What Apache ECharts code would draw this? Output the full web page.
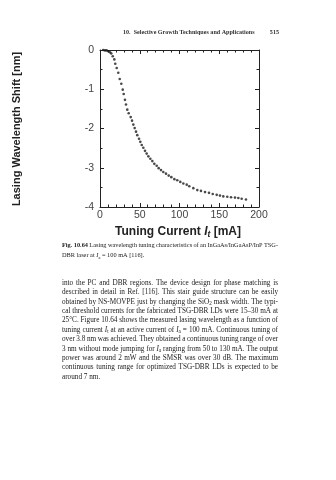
<!DOCTYPE html>
<html>
<head>
<meta charset="utf-8">
<script src="https://cdn.jsdelivr.net/npm/echarts@6/dist/echarts.min.js"></script>
<style>
  html, body { margin: 0; padding: 0; background: #fff; }
  #page { width: 336px; height: 480px; }
</style>
</head>
<body>
<div id="page"></div>
<script>
// Tuning current (mA) and the resulting lasing wavelength shift (nm)
const tuningCurrent = [
  4, 6.3, 8.4, 10.4, 12.6, 14.2, 16.0, 18.0, 19.2, 21.0, 23.0, 24.8, 26.8, 28.6, 29.8,
  31.4, 32.7, 34.3, 36.1, 38.6, 40.3, 41.9, 43.6, 45.3, 46.9, 49.1, 50.7, 52.5, 54.5,
  56.6, 58.7, 60.8, 63.3, 65.8, 68.3, 71.3, 73.8, 76.7, 79.6, 83.0, 86.4, 89.7, 93.5,
  97.2, 101.0, 104.8, 109.1, 112.3, 117.4, 122.4, 127.0, 132.1, 137.1, 141.8, 146.8,
  150.9, 155.1, 160.1, 164.8, 169.8, 174.0, 178.2, 183.6
];
const wavelengthShift = [
  0, -0.01, -0.01, -0.03, -0.06, -0.09, -0.16, -0.24, -0.35, -0.46, -0.58, -0.74, -0.86, -1.01, -1.12,
  -1.27, -1.39, -1.52, -1.61, -1.71, -1.80, -1.90, -1.99, -2.08, -2.17, -2.26, -2.34, -2.42, -2.49,
  -2.57, -2.64, -2.71, -2.77, -2.83, -2.90, -2.95, -3.01, -3.06, -3.11, -3.15, -3.20, -3.24, -3.29,
  -3.32, -3.36, -3.40, -3.43, -3.47, -3.52, -3.57, -3.59, -3.62, -3.64, -3.67, -3.69,
  -3.71, -3.73, -3.74, -3.75, -3.76, -3.77, -3.79, -3.81
];
const xTicks = { min: 0, max: 200, step: 50 };
const yTicks = { min: -4, max: 0, step: 1 };

// Page furniture
const runningHead = '10.  Selective Growth Techniques and Applications';
const pageNumber = '515';
const captionLines = [
  '**Fig. 10.64**  Lasing wavelength tuning characteristics of an InGaAs/InGaAsP/InP TSG-',
  'DBR laser at *I*_{a} = 100 mA [116].'
];
const bodyLines = [
  'into the PC and DBR regions. The device design for phase matching is',
  'described in detail in Ref. [116]. This stair guide structure can be easily',
  'obtained by NS-MOVPE just by changing the SiO_{2} mask width. The typi-',
  'cal threshold currents for the fabricated TSG-DBR LDs were 15\u201330 mA at',
  '25\u00B0C. Figure 10.64 shows the measured lasing wavelength as a function of',
  'tuning current *I*_{t} at an active current of *I*_{a} = 100 mA. Continuous tuning of',
  'over 3.8 nm was achieved. They obtained a continuous tuning range of over',
  '3 nm without mode jumping for *I*_{a} ranging from 50 to 130 mA. The output',
  'power was around 2 mW and the SMSR was over 30 dB. The maximum',
  'continuous tuning range for optimized TSG-DBR LDs is expected to be',
  'around 7 nm.'
];

const SERIF = '"Liberation Serif", "DejaVu Serif", serif';
const SANS = '"Liberation Sans", Arial, sans-serif';
const TEXT_LEFT = 62, TEXT_RIGHT = 278;

const measureCtx = document.createElement('canvas').getContext('2d');

function fontOf(kind, size) {
  const sub = kind === 'sub';
  const sz = sub ? size * 0.7 : size;
  const style = kind === 'i' ? 'italic ' : '';
  const weight = kind === 'b' ? 'bold ' : '';
  return style + weight + sz.toFixed(2) + 'px ' + SERIF;
}

// Split a marked-up line into words made of styled pieces
function parseLine(line) {
  const re = /(\*\*[^*]+\*\*|\*[^*]+\*|_\{[^}]+\})/;
  const raw = line.split(re).filter(s => s.length);
  const words = [[]];
  raw.forEach(tok => {
    let kind = 'n', t = tok;
    if (tok.startsWith('**')) { kind = 'b'; t = tok.slice(2, -2); }
    else if (tok.startsWith('*')) { kind = 'i'; t = tok.slice(1, -1); }
    else if (tok.startsWith('_{')) { kind = 'sub'; t = tok.slice(2, -1); }
    const parts = t.split(' ');
    parts.forEach((p, j) => {
      if (j > 0) words.push([]);
      if (p) words[words.length - 1].push({ t: p, kind });
    });
  });
  return words.filter(w => w.length);
}

function pieceWidth(p, size) {
  measureCtx.font = fontOf(p.kind, size);
  return measureCtx.measureText(p.t).width;
}
function wordWidth(word, size) {
  return word.reduce((s, p) => s + pieceWidth(p, size), 0);
}
function naturalWidth(line, size) {
  const words = parseLine(line);
  measureCtx.font = fontOf('n', size);
  const space = measureCtx.measureText(' ').width * 0.85;
  return words.reduce((s, w) => s + wordWidth(w, size), 0) + space * (words.length - 1);
}
// Largest type size at which every justified line still fits the measure
function fitSize(lines, width) {
  const base = 10;
  const widest = Math.max(...lines.slice(0, -1).map(l => naturalWidth(l, base)));
  return base * width / widest;
}

// Lay out a paragraph line, justified between x0 and x1 unless it is the last
function setLine(line, x0, x1, y, size, justify, out) {
  const words = parseLine(line);
  const widths = words.map(w => wordWidth(w, size));
  const total = widths.reduce((a, b) => a + b, 0);
  measureCtx.font = fontOf('n', size);
  const space = measureCtx.measureText(' ').width;
  const gap = justify && words.length > 1 ? (x1 - x0 - total) / (words.length - 1) : space;
  let x = x0;
  words.forEach(w => {
    w.forEach(p => {
      out.push({
        type: 'text',
        x: x,
        y: p.kind === 'sub' ? y + size * 0.3 : y,
        silent: true,
        style: {
          text: p.t,
          font: fontOf(p.kind, size),
          fill: '#222',
          align: 'left',
          verticalAlign: 'middle'
        }
      });
      x += pieceWidth(p, size);
    });
    x += gap;
  });
}

const graphics = [];

// Running head
graphics.push({
  type: 'text', x: 123, y: 32, silent: true,
  style: { text: runningHead, font: 'bold 6.1px ' + SERIF, fill: '#333', align: 'left', verticalAlign: 'middle' }
});
graphics.push({
  type: 'text', x: 279, y: 32, silent: true,
  style: { text: pageNumber, font: 'bold 6.1px ' + SERIF, fill: '#333', align: 'right', verticalAlign: 'middle' }
});

// Axis titles (the vertical one reads bottom to top)
graphics.push({
  type: 'text', x: 17, y: 129, rotation: Math.PI / 2, silent: true,
  style: { text: 'Lasing Wavelength Shift [nm]', font: 'bold 11px ' + SANS, fill: '#222', align: 'center', verticalAlign: 'middle' }
});
graphics.push({
  type: 'text', x: 178, y: 232, silent: true,
  style: {
    text: '{a|Tuning Current }{i|I}{s|t}{a| [mA]}',
    align: 'center', verticalAlign: 'middle',
    rich: {
      a: { font: 'bold 12px ' + SANS, fill: '#222' },
      i: { font: 'italic bold 12px ' + SANS, fill: '#222' },
      s: { font: 'italic bold 8.5px ' + SANS, fill: '#222', padding: [5, 0, 0, 0] }
    }
  }
});

// Caption and body text
const captionSize = fitSize(captionLines, TEXT_RIGHT - TEXT_LEFT);
const bodySize = fitSize(bodyLines, TEXT_RIGHT - TEXT_LEFT);
captionLines.forEach((ln, k) => setLine(ln, TEXT_LEFT, TEXT_RIGHT, 245.5 + k * 10, captionSize, k < captionLines.length - 1, graphics));
bodyLines.forEach((ln, k) => setLine(ln, TEXT_LEFT, TEXT_RIGHT, 283 + k * 9.4, bodySize, k < bodyLines.length - 1, graphics));

const chart = echarts.init(document.getElementById('page'), null, { renderer: 'canvas' });

const tickStyle = { lineStyle: { color: '#222', width: 1 } };
function makeX(position, showLabels) {
  return {
    type: 'value', position, min: xTicks.min, max: xTicks.max, interval: xTicks.step,
    axisLine: { show: true, onZero: false, lineStyle: { color: '#222', width: 1 } },
    axisTick: { show: true, inside: true, length: 4, ...tickStyle },
    minorTick: { show: true, splitNumber: 5, length: 2.5, ...tickStyle },
    splitLine: { show: false },
    axisLabel: { show: showLabels, margin: 3, fontSize: 10.5, fontFamily: SANS, color: '#444' }
  };
}
function makeY(position, showLabels) {
  return {
    type: 'value', position, min: yTicks.min, max: yTicks.max, interval: yTicks.step,
    axisLine: { show: true, onZero: false, lineStyle: { color: '#222', width: 1 } },
    axisTick: { show: true, inside: true, length: 4, ...tickStyle },
    minorTick: { show: true, splitNumber: 2, length: 2.5, ...tickStyle },
    splitLine: { show: false },
    axisLabel: { show: showLabels, margin: 6, fontSize: 10.5, fontFamily: SANS, color: '#444' }
  };
}

chart.setOption({
  animation: false,
  backgroundColor: '#fff',
  grid: { left: 100, top: 50, width: 159, height: 157, outerBoundsMode: 'none' },
  xAxis: [makeX('bottom', true), makeX('top', false)],
  yAxis: [makeY('left', true), makeY('right', false)],
  series: [{
    type: 'scatter',
    xAxisIndex: 0, yAxisIndex: 0,
    symbol: 'circle',
    symbolSize: 2.6,
    itemStyle: { color: '#1c1c1c' },
    data: tuningCurrent.map((c, i) => [c, wavelengthShift[i]])
  }],
  graphic: graphics
});
</script>
</body>
</html>
